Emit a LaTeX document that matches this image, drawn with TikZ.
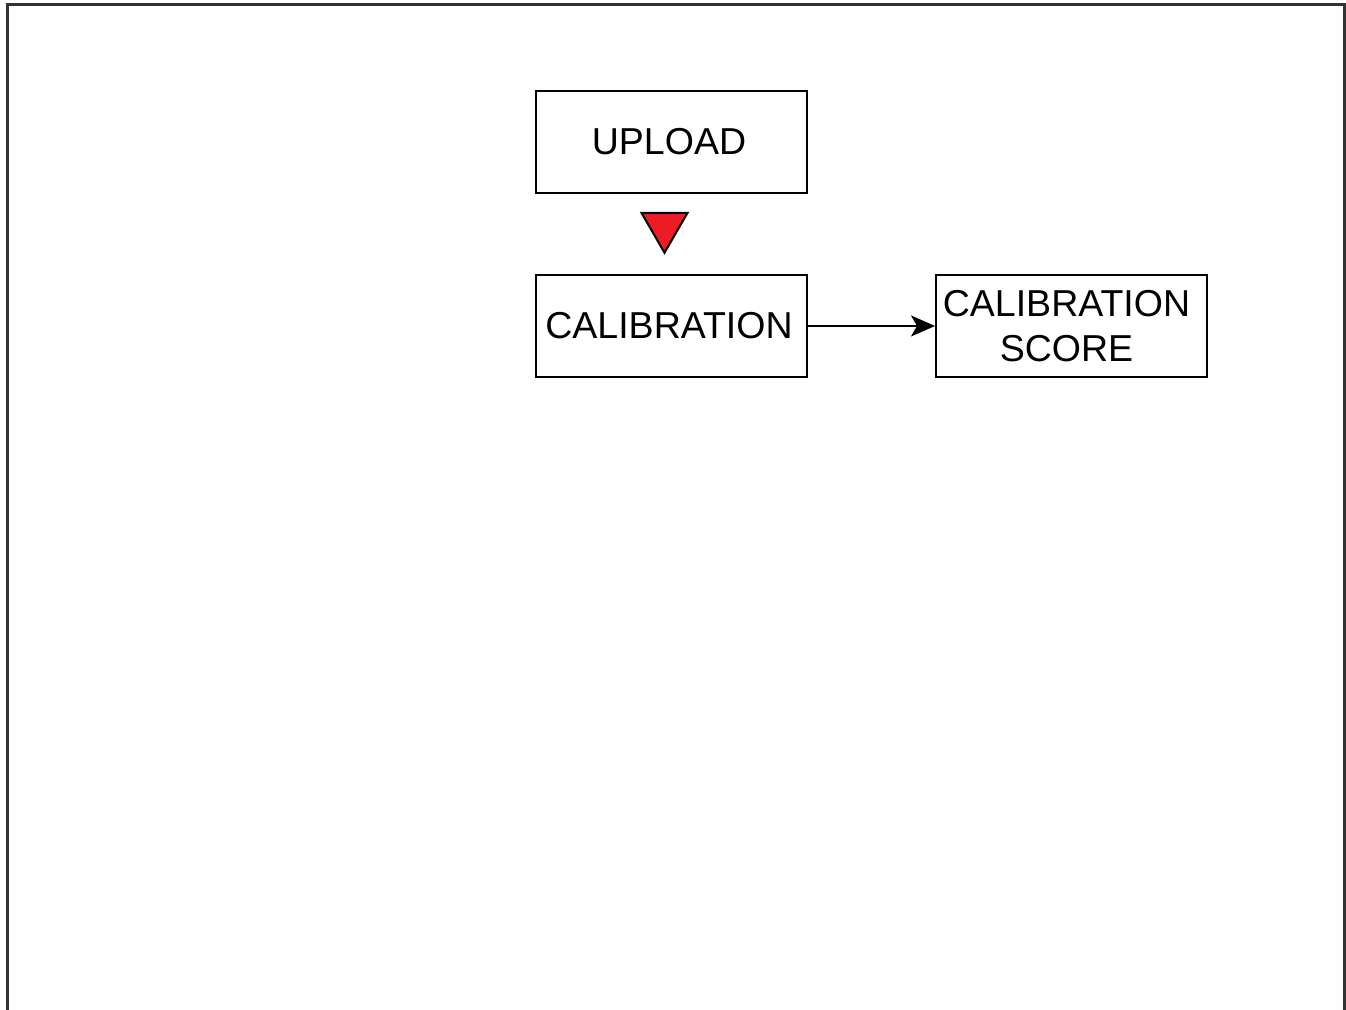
\documentclass[tikz,border=0pt]{standalone}
\usepackage{fontspec}
\setmainfont{Liberation Sans}
\usetikzlibrary{positioning, shapes.geometric, arrows.meta}

\definecolor{markred}{HTML}{ED1C24}
\definecolor{framegray}{HTML}{333333}

\begin{document}
\begin{tikzpicture}[
        x=1pt, y=1pt,
        node distance=80pt and 127pt,
        box/.style={draw, line width=2pt, minimum width=271pt, minimum height=102pt, align=center, font=\fontsize{37.5}{45}\selectfont, inner sep=2pt},
        marker/.style={draw, line width=2pt, fill=markred, regular polygon, regular polygon sides=3, shape border rotate=180, minimum size=53pt, inner sep=0pt},
        link/.style={-{Stealth[length=24pt, width=21pt, inset=6pt]}, line width=2pt}
    ]

    % Page and frame
    \useasboundingbox (0,0) rectangle (1346,1009);
    \draw[framegray, line width=3pt] (7,-5) -- (7,1004) -- (1344,1004) -- (1344,-5);

    % Steps
    \node[box] (upload) at (671.5,867) {UPLOAD\hspace*{5pt}};
    \node[box, below=of upload] (calib) {CALIBRATION\hspace*{5pt}};
    \node[box, right=of calib] (score) {CALIBRATION\hspace*{10pt}\\SCORE\hspace*{10pt}};

    % Marker between the steps
    \node[marker, below=18pt of upload, xshift=-7pt] (mark) {};

    % Edge
    \draw[link] (calib) -- (score);

\end{tikzpicture}
\end{document}
